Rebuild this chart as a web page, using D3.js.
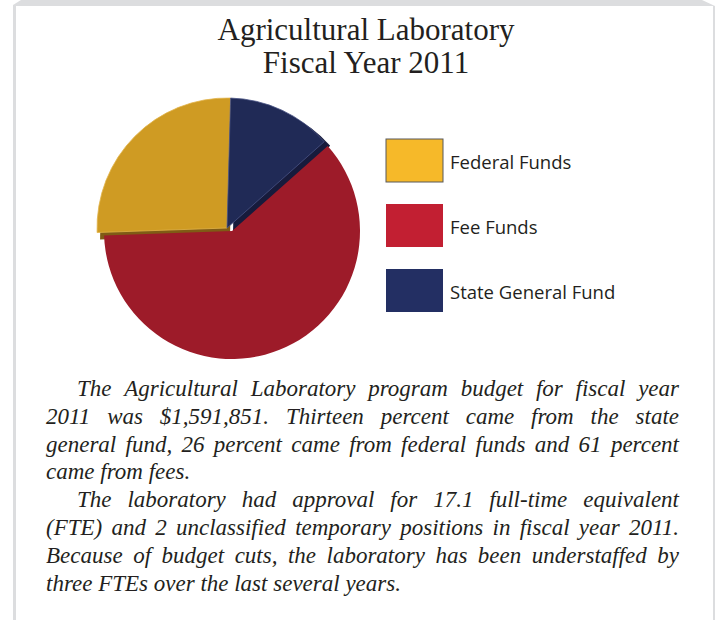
<!DOCTYPE html>
<html>
<head>
<meta charset="utf-8">
<script src="https://d3js.org/d3.v7.min.js"></script>
<style>
  html, body { margin: 0; padding: 0; background: #fff; }
  svg { display: block; }
  .title { font-family: "Liberation Serif", "Times New Roman", serif; font-size: 31px; fill: #231f20; }
  .legend text { font-family: "Open Sans", "Noto Sans", sans-serif; font-size: 18.5px; fill: #231f20; }
  .body-text { font-family: "Liberation Serif", "Times New Roman", serif; font-style: italic; font-size: 23px; fill: #231f20; }
</style>
</head>
<body>
<svg id="chart" width="715" height="620"></svg>
<script>
'use strict';

// ========== data

const categories = ['Federal Funds', 'Fee Funds', 'State General Fund'];
const shares = [26, 61, 13];                       // percent of the FY2011 budget
const pieOrder = ['Federal Funds', 'State General Fund', 'Fee Funds'];
const titleLines = ['Agricultural Laboratory', 'Fiscal Year 2011'];
const bodyLines = [
  { text: 'The Agricultural Laboratory program budget for fiscal year', indent: true, justify: true },
  { text: '2011 was $1,591,851. Thirteen percent came from the state', indent: false, justify: true },
  { text: 'general fund, 26 percent came from federal funds and 61 percent', indent: false, justify: true },
  { text: 'came from fees.', indent: false, justify: false },
  { text: 'The laboratory had approval for 17.1 full-time equivalent', indent: true, justify: true },
  { text: '(FTE) and 2 unclassified temporary positions in fiscal year 2011.', indent: false, justify: true },
  { text: 'Because of budget cuts, the laboratory has been understaffed by', indent: false, justify: true },
  { text: 'three FTEs over the last several years.', indent: false, justify: false }
];

// ========== styles

const faceColor = { 'Federal Funds': '#cf9b23', 'Fee Funds': '#9d1b29', 'State General Fund': '#202a56' };
const sideColor = { 'Federal Funds': '#7f5b15', 'Fee Funds': '#6e111b', 'State General Fund': '#171b3c' };
const edgeColor = { 'Federal Funds': '#e2b44a', 'Fee Funds': '#9d1b29', 'State General Fund': '#4a5485' };
const legendColor = { 'Federal Funds': '#f6b929', 'Fee Funds': '#c21f32', 'State General Fund': '#232f63' };

const svg = d3.select('#chart');

// ========== frame

svg.append('path')
  .attr('d', 'M13,620 L13,5 L21,0 L702,0 L715,6 L715,620 Z')
  .attr('fill', '#dcdddf');
svg.append('rect')
  .attr('x', 16).attr('y', 6)
  .attr('width', 697).attr('height', 614)
  .attr('fill', '#fff');

// ========== title

svg.append('g').selectAll('text')
  .data(titleLines)
  .join('text')
  .attr('class', 'title')
  .attr('x', 366)
  .attr('y', (d, i) => 40 + i * 33)
  .attr('text-anchor', 'middle')
  .text(d => d);

// ========== pie

const rows = categories.map((c, i) => ({ name: c, value: shares[i] }));
const startDeg = -92;
const pie = d3.pie()
  .value(d => d.value)
  .sort((a, b) => pieOrder.indexOf(a.name) - pieOrder.indexOf(b.name))
  .startAngle(startDeg * Math.PI / 180)
  .endAngle(startDeg * Math.PI / 180 + 2 * Math.PI);
const arcs = pie(rows);

const base = { x: 232, y: 231, r: 128 };      // fee slice sits lowest
const raised = { x: 227, y: 228, r: 130 };    // federal & state slices lifted
const sideShift = { 'Federal Funds': [3, 7], 'State General Fund': [6, 4] };

const arcBase = d3.arc().innerRadius(0).outerRadius(base.r);
const arcRaised = d3.arc().innerRadius(0).outerRadius(raised.r);

const pieG = svg.append('g');
const upper = arcs.filter(a => a.data.name !== 'Fee Funds');
const lower = arcs.filter(a => a.data.name === 'Fee Funds');

// sides of the lifted slices
pieG.selectAll('path.side')
  .data(upper)
  .join('path')
  .attr('class', 'side')
  .attr('transform', d => `translate(${raised.x + sideShift[d.data.name][0]},${raised.y + sideShift[d.data.name][1]})`)
  .attr('d', arcRaised)
  .attr('fill', d => sideColor[d.data.name]);

// fee slice
pieG.selectAll('path.base')
  .data(lower)
  .join('path')
  .attr('class', 'base')
  .attr('transform', `translate(${base.x},${base.y})`)
  .attr('d', arcBase)
  .attr('fill', d => faceColor[d.data.name]);

// faces of the lifted slices
pieG.selectAll('path.face')
  .data(upper)
  .join('path')
  .attr('class', 'face')
  .attr('transform', `translate(${raised.x},${raised.y})`)
  .attr('d', arcRaised)
  .attr('fill', d => faceColor[d.data.name])
  .attr('stroke', d => edgeColor[d.data.name])
  .attr('stroke-width', 0.8)
  .attr('stroke-linejoin', 'round');

// ========== legend

const legend = svg.append('g').attr('class', 'legend');
const item = legend.selectAll('g')
  .data(categories)
  .join('g')
  .attr('transform', (d, i) => `translate(386,${139 + i * 65})`);
item.append('rect')
  .attr('width', 57)
  .attr('height', 43)
  .attr('fill', d => legendColor[d])
  .attr('stroke', d => d === 'Federal Funds' ? '#58595b' : 'none')
  .attr('stroke-width', 1);
item.append('text')
  .attr('x', 64)
  .attr('y', 30)
  .text(d => d);

// ========== body text (justified lines)

const left = 46, right = 679, indent = 31;
const lineY = [396, 424, 452, 479, 507, 535, 563, 591];
const bodyG = svg.append('g');
bodyLines.forEach((line, i) => {
  const x0 = left + (line.indent ? indent : 0);
  const words = line.text.split(' ');
  const t = bodyG.append('text')
    .attr('class', 'body-text')
    .attr('y', lineY[i]);
  const spans = words.map(w => t.append('tspan').text(w));
  const widths = spans.map(s => s.node().getComputedTextLength());
  const space = t.append('tspan').text('\u00a0');
  const spaceW = space.node().getComputedTextLength();
  space.remove();
  const total = d3.sum(widths);
  const gap = line.justify && words.length > 1
    ? (right - x0 - total) / (words.length - 1)
    : spaceW;
  let x = x0;
  spans.forEach((s, k) => {
    s.attr('x', x);
    x += widths[k] + gap;
  });
});
</script>
</body>
</html>
